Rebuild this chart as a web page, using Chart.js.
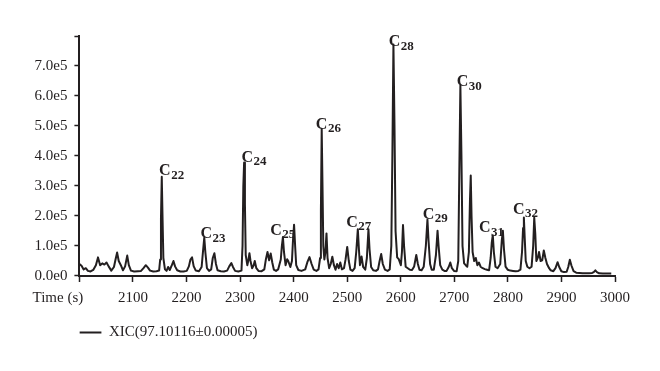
<!DOCTYPE html>
<html>
<head>
<meta charset="utf-8">
<script src="https://cdn.jsdelivr.net/npm/chart.js@4.4.1/dist/chart.umd.min.js"></script>
<style>
  html, body { margin: 0; padding: 0; background: #ffffff; }
  #wrap { width: 660px; height: 371px; }
</style>
</head>
<body>
<div id="wrap"><canvas id="c" width="660" height="371"></canvas></div>
<script>
// ---- data ----
const times = [
  2000,2004,2008,2012,2016,2021,2026,2031,2035,2039,2043,2047,2051,2055,2060,2065,2068,2071,2074,2078,
  2082,2086,2090,2093,2097,2103,2110,2116,2121,2125,2129,2133,2139,2145,2150,2152,2153.5,2155,2156.5,2158,
  2161,2164,2167,2170,2174,2177,2180,2184,2190,2196,2202,2206,2209,2212,2215,2219,2225,2230,2233,2235,
  2237,2240,2244,2248,2251,2254,2257,2260,2266,2272,2278,2282,2286,2289,2293,2299,2305,2307,2308.5,2310,
  2311.5,2313,2316,2318,2320,2322,2325,2328,2330,2333,2337,2343,2348,2351,2354,2357,2360,2363,2366,2370,
  2374,2379,2381,2383,2385,2388,2391,2393,2397,2400,2402,2404,2406,2408,2412,2418,2425,2429,2433,2437,
  2441,2446,2450,2453,2454.5,2456,2457.5,2459,2461,2463,2465,2467,2470,2473,2476,2479,2482,2485,2488,2491,
  2494,2498,2501,2504,2507,2510,2514,2518,2521,2524,2526,2528,2531,2534,2538,2541,2544,2546,2549,2553,
  2558,2562,2565,2568,2571,2575,2580,2584,2587,2589,2591,2593,2595,2598,2601,2605,2607,2609,2611,2614,
  2618,2622,2626,2630,2634,2637,2640,2644,2648,2652,2655,2657,2660,2663,2667,2671,2674,2676,2679,2683,
  2687,2691,2695,2698,2701,2705,2710,2713,2715,2717,2719,2721,2724,2727,2730,2733,2735,2736.5,2738,2740,
  2743,2746,2749,2752,2755,2759,2763,2767,2771,2774,2776,2778,2780,2783,2787,2792,2795,2797,2799,2802,
  2806,2811,2816,2821,2826,2830,2833,2835,2836.5,2838,2840,2843,2847,2851,2854,2856,2858,2860,2863,2865,
  2868,2871,2874,2877,2880,2884,2887,2892,2896,2900,2903,2907,2912,2917,2920,2923,2926,2930,2935,2941,
  2947,2953,2959,2965,2968,2971,2974,2978,2985,2992,2998,3001
];
const intensity = [
  40000,34000,22000,26000,17000,15000,20000,36000,62000,36000,42000,38000,45000,32000,18000,30000,55000,78000,50000,36000,
  19000,32000,68000,36000,18000,15000,16000,17000,27000,36000,28000,18000,15000,16000,18000,55000,190000,331000,190000,60000,
  22000,17000,30000,20000,36000,50000,32000,19000,15000,15000,17000,32000,55000,62000,33000,18000,16000,30000,90000,128000,
  80000,26000,17000,22000,60000,76000,40000,19000,16000,15000,18000,32000,43000,30000,17000,15000,18000,100000,300000,378000,
  240000,70000,36000,52000,76000,50000,26000,36000,50000,26000,17000,16000,22000,56000,80000,52000,75000,45000,21000,17000,
  22000,55000,100000,130000,80000,36000,56000,50000,30000,50000,120000,171000,100000,36000,20000,17000,22000,46000,63000,40000,
  21000,17000,22000,60000,220000,491000,300000,100000,55000,80000,142000,60000,26000,40000,64000,36000,21000,40000,26000,45000,
  22000,26000,56000,97000,50000,21000,17000,26000,80000,156000,90000,36000,65000,30000,21000,60000,156000,90000,30000,19000,
  17000,22000,50000,73000,40000,21000,17000,22000,100000,400000,772000,500000,150000,62000,56000,36000,80000,170000,100000,31000,
  26000,21000,20000,32000,70000,40000,21000,19000,31000,100000,188000,120000,40000,21000,21000,70000,151000,100000,36000,21000,
  17000,17000,30000,45000,26000,17000,16000,50000,350000,636000,400000,100000,42000,36000,31000,80000,250000,335000,200000,80000,
  50000,60000,36000,45000,31000,26000,23000,21000,19000,60000,110000,136000,80000,31000,26000,40000,120000,151000,90000,31000,
  21000,18000,17000,16000,17000,21000,80000,160000,195000,130000,50000,31000,26000,31000,100000,195000,140000,50000,62000,80000,
  50000,52000,85000,60000,40000,26000,19000,16000,26000,46000,30000,16000,13000,14000,30000,54000,35000,16000,11000,10000,
  9000,9000,9000,10000,13000,19000,13000,9000,8000,8000,8000,8000
];
const seriesName = 'XIC(97.10116\u00b10.00005)';

// peak annotations (carbon number, anchor time, anchor intensity)
const peakNumbers = ['22','23','24','25','26','27','28','29','30','31','32'];
const labelTimes  = [2150, 2228, 2305, 2359, 2445, 2502, 2582, 2646, 2710, 2752, 2816];
const labelValues = [335000, 125000, 380000, 137000, 491000, 164000, 765000, 190000, 633000, 145000, 207000];

// tick labels
const xTickLabels = ['', '2100', '2200', '2300', '2400', '2500', '2600', '2700', '2800', '2900', '3000'];
const yTickLabels = ['0.0e0', '1.0e5', '2.0e5', '3.0e5', '4.0e5', '5.0e5', '6.0e5', '7.0e5', ''];
const xAxisTitle = 'Time (s)';

// ---- styles ----
const INK = '#231f20';
const SERIF = '"Liberation Serif", "DejaVu Serif", serif';

const points = times.map((t, i) => ({ x: t, y: intensity[i] }));

const annotationPlugin = {
  id: 'peakLabels',
  afterDatasetsDraw(chart) {
    const { ctx, scales: { x, y } } = chart;
    ctx.save();
    ctx.fillStyle = INK;
    ctx.textAlign = 'left';
    ctx.textBaseline = 'alphabetic';
    peakNumbers.forEach((n, i) => {
      const px = x.getPixelForValue(labelTimes[i]);
      const py = y.getPixelForValue(labelValues[i]);
      ctx.font = 'bold 16px ' + SERIF;
      ctx.fillText('C', px, py);
      const w = ctx.measureText('C').width;
      ctx.font = 'bold 13px ' + SERIF;
      ctx.fillText(n, px + w + 0.5, py + 3.5);
    });
    ctx.font = '15px ' + SERIF;
    ctx.textAlign = 'center';
    ctx.textBaseline = 'middle';
    ctx.fillText(xAxisTitle, x.left - 21.5, x.top + 22);
    ctx.restore();
  }
};

new Chart(document.getElementById('c'), {
  type: 'line',
  data: {
    datasets: [{
      label: seriesName,
      data: points,
      borderColor: INK,
      backgroundColor: INK,
      borderWidth: 2,
      pointRadius: 0,
      pointHoverRadius: 0,
      tension: 0,
      fill: false,
      borderJoinStyle: 'round'
    }]
  },
  options: {
    responsive: false,
    devicePixelRatio: 1,
    animation: false,
    events: [],
    layout: { padding: { left: 27.5, right: 45, top: 36, bottom: 21 } },
    plugins: {
      tooltip: { enabled: false },
      legend: {
        display: true,
        position: 'bottom',
        align: 'start',
        fullSize: false,
        title: { display: true, text: '', font: { size: 8.34 }, padding: { top: 0, bottom: 0 } },
        labels: {
          usePointStyle: true,
          pointStyle: 'line',
          pointStyleWidth: 22,
          padding: 0,
          color: INK,
          font: { family: SERIF, size: 15 }
        }
      }
    },
    scales: {
      x: {
        type: 'linear',
        min: 2000,
        max: 3008,
        grid: { display: true, drawOnChartArea: false, drawTicks: true, tickLength: 6, tickWidth: 1.5, tickColor: INK },
        border: { display: true, color: INK, width: 2 },
        ticks: {
          stepSize: 100,
          includeBounds: false,
          autoSkip: false,
          maxRotation: 0,
          padding: 7.5,
          color: INK,
          font: { family: SERIF, size: 15 },
          callback: (v, i) => xTickLabels[i]
        }
      },
      y: {
        type: 'linear',
        min: 0,
        max: 800000,
        grid: { display: true, drawOnChartArea: false, drawTicks: true, tickLength: 5, tickWidth: 1.5, tickColor: INK },
        border: { display: true, color: INK, width: 2 },
        ticks: {
          stepSize: 100000,
          autoSkip: false,
          padding: 7,
          color: INK,
          font: { family: SERIF, size: 15 },
          callback: (v, i) => yTickLabels[i]
        }
      }
    }
  },
  plugins: [annotationPlugin]
});
</script>
</body>
</html>
